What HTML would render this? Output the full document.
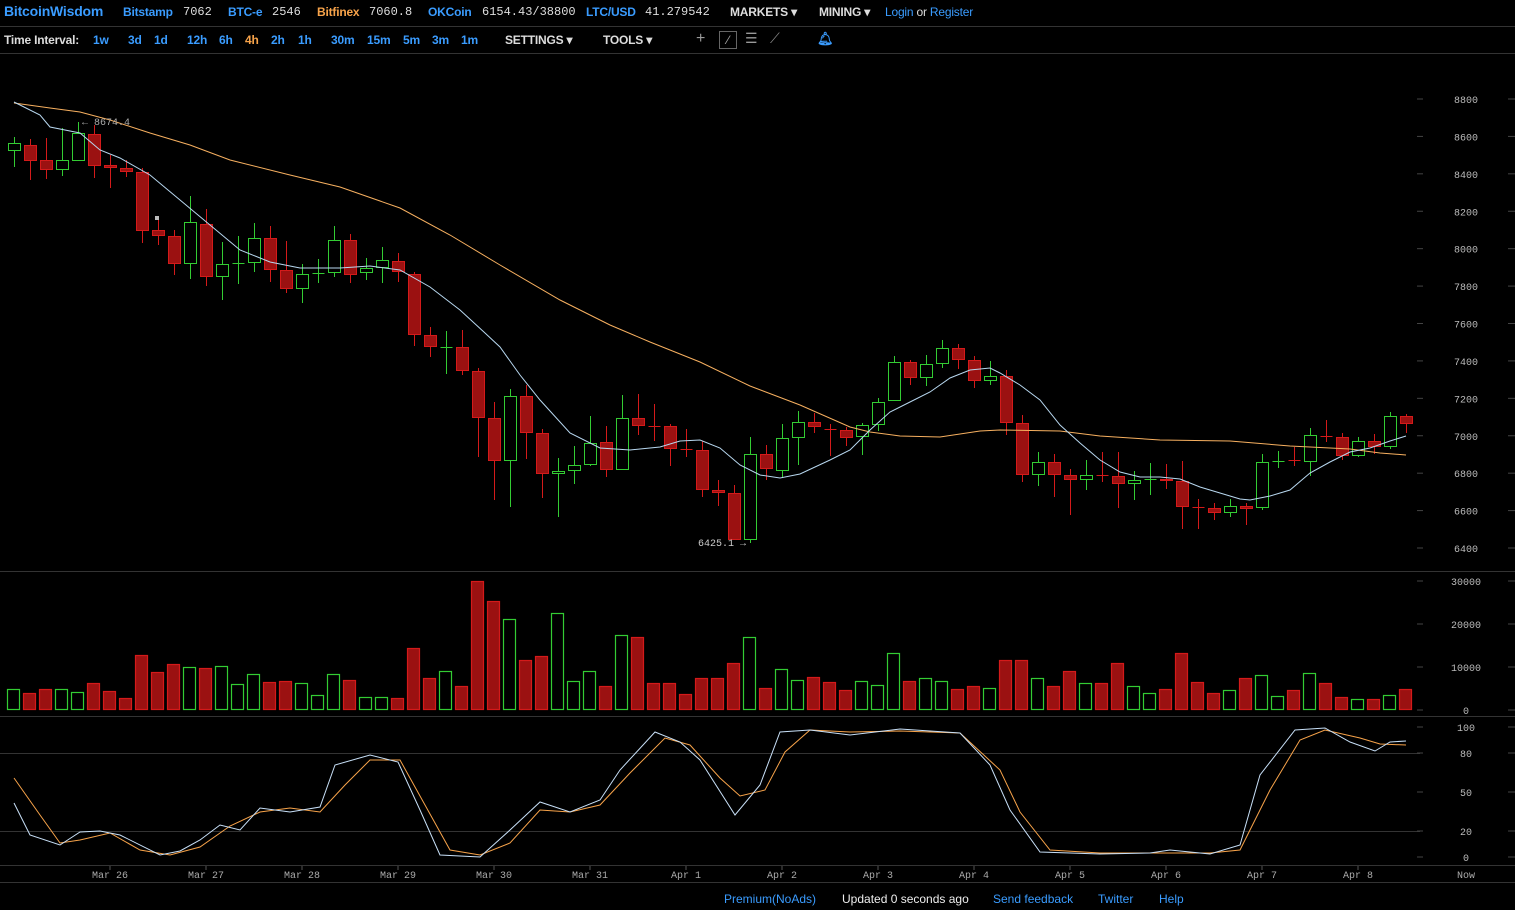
<!DOCTYPE html>
<html><head><meta charset="utf-8"><style>
body{margin:0;width:1515px;height:909px;background:#000;overflow:hidden;font-family:"Liberation Sans",sans-serif;position:relative}
.bar{position:absolute;left:0;width:1515px;font-size:12px;color:#ddd;white-space:nowrap}
#top{top:0;height:26px;border-bottom:1px solid #333}
#tb{top:27px;height:26px;border-bottom:1px solid #333}
#top span.a:not(.m),#tb span.a{font-weight:bold;letter-spacing:-0.2px}
.b{color:#3a9cff}.m{font-family:"Liberation Mono",monospace;color:#ddd;font-size:12px}
span.a{position:absolute;top:5px}
svg{position:absolute;left:0;top:0}
</style></head><body>
<div class="bar" id="top">
<span class="a b" style="left:4px;font-size:14px;top:3px">BitcoinWisdom</span>
<span class="a b" style="left:123px">Bitstamp</span><span class="a m" style="left:183px">7062</span>
<span class="a b" style="left:228px">BTC-e</span><span class="a m" style="left:272px">2546</span>
<span class="a" style="left:317px;color:#f7a34a">Bitfinex</span><span class="a m" style="left:369px">7060.8</span>
<span class="a b" style="left:428px">OKCoin</span><span class="a m" style="left:482px">6154.43/38800</span>
<span class="a b" style="left:586px">LTC/USD</span><span class="a m" style="left:645px">41.279542</span>
<span class="a" style="left:730px">MARKETS ▾</span>
<span class="a" style="left:819px">MINING ▾</span>
<span class="a" style="left:885px;font-weight:normal"><span class="b">Login</span> or <span class="b">Register</span></span>
</div>
<div class="bar" id="tb">
<span class="a" style="left:4px;top:6px">Time Interval:</span>
<span class="a b" style="left:93px;top:6px">1w</span>
<span class="a b" style="left:128px;top:6px">3d</span><span class="a b" style="left:154px;top:6px">1d</span>
<span class="a b" style="left:187px;top:6px">12h</span><span class="a b" style="left:219px;top:6px">6h</span>
<span class="a" style="left:245px;top:6px;color:#f7a34a">4h</span><span class="a b" style="left:271px;top:6px">2h</span><span class="a b" style="left:298px;top:6px">1h</span>
<span class="a b" style="left:331px;top:6px">30m</span><span class="a b" style="left:367px;top:6px">15m</span><span class="a b" style="left:403px;top:6px">5m</span><span class="a b" style="left:432px;top:6px">3m</span><span class="a b" style="left:461px;top:6px">1m</span>
<span class="a" style="left:505px;top:6px">SETTINGS ▾</span>
<span class="a" style="left:603px;top:6px">TOOLS ▾</span>
<span class="a" style="left:696px;top:3px;font-size:16px;color:#999;font-weight:normal">+</span>
<span class="a" style="left:719px;top:4px;width:16px;height:16px;border:1px solid #666;color:#aaa;text-align:center;line-height:16px;font-weight:normal">⁄</span>
<span class="a" style="left:745px;top:3px;color:#999;font-size:14px;font-weight:normal">☰</span>
<span class="a" style="left:770px;top:3px;color:#888;font-size:14px;font-weight:normal">⟋</span>
<span class="a b" style="left:817px;top:4px;font-size:13px">🔔︎</span>
</div>
<div class="bar" style="top:882px;height:27px;border-top:1px solid #333">
<span class="a b" style="left:724px;top:9px">Premium(NoAds)</span>
<span class="a" style="left:842px;top:9px;color:#eee">Updated 0 seconds ago</span>
<span class="a b" style="left:993px;top:9px">Send feedback</span>
<span class="a b" style="left:1098px;top:9px">Twitter</span>
<span class="a b" style="left:1159px;top:9px">Help</span>
</div>
<svg id="s" width="1515" height="909"></svg>
<script>
var C=[[137,143,150,167,'G'],[139,145,160,180,'R'],[138,160,169,179,'R'],[128,160,169,176,'G'],[122,133,160,160,'G'],[125,134,165,178,'R'],[155,165,167,188,'R'],[160,168,171,177,'R'],[168,172,230,243,'R'],[218,230,235,245,'R'],[230,236,263,275,'R'],[196,222,263,279,'G'],[209,224,276,286,'R'],[242,264,276,300,'G'],[236,263,263,284,'G'],[223,238,262,272,'G'],[226,238,269,282,'R'],[241,270,288,293,'R'],[264,274,288,303,'G'],[259,273,273,283,'G'],[226,240,272,277,'G'],[234,240,274,283,'R'],[258,268,272,280,'G'],[247,260,267,283,'G'],[253,261,271,282,'R'],[272,274,334,346,'R'],[327,335,346,357,'R'],[331,347,347,374,'G'],[330,347,370,375,'R'],[368,371,417,457,'R'],[402,418,460,500,'R'],[389,396,460,507,'G'],[385,396,432,459,'R'],[429,433,473,498,'R'],[458,471,473,517,'G'],[446,465,470,484,'G'],[416,443,464,466,'G'],[426,442,469,477,'R'],[395,418,469,469,'G'],[394,418,425,435,'R'],[404,426,426,441,'R'],[424,426,448,466,'R'],[429,449,449,457,'R'],[441,450,489,497,'R'],[480,490,492,506,'R'],[485,493,539,540,'R'],[437,454,539,543,'G'],[445,454,468,480,'R'],[424,438,470,478,'G'],[411,422,437,465,'G'],[413,422,426,433,'R'],[424,429,429,456,'R'],[427,430,437,446,'R'],[423,425,436,455,'G'],[398,402,424,431,'G'],[356,362,400,400,'G'],[360,362,377,385,'R'],[355,364,377,386,'G'],[340,348,363,368,'G'],[344,348,359,369,'R'],[356,360,380,388,'R'],[361,376,380,385,'G'],[370,376,422,435,'R'],[415,423,474,482,'R'],[452,462,474,486,'G'],[454,462,474,497,'R'],[469,475,479,515,'R'],[460,475,479,490,'G'],[452,475,475,482,'R'],[452,476,483,508,'R'],[471,480,483,500,'G'],[463,479,479,495,'G'],[464,479,480,489,'R'],[461,481,506,529,'R'],[499,507,507,529,'R'],[503,508,512,520,'R'],[499,506,512,517,'G'],[503,506,508,525,'R'],[454,462,507,510,'G'],[451,461,461,468,'G'],[447,460,460,466,'R'],[428,435,461,476,'G'],[420,436,436,442,'R'],[433,437,455,460,'R'],[437,441,455,457,'G'],[434,441,446,454,'R'],[412,416,446,449,'G'],[414,416,423,433,'R']];
var V=[689,693,689,689,692,683,691,698,655,672,664,667,668,666,684,674,682,681,683,695,674,680,697,697,698,648,678,671,686,581,601,619,660,656,613,681,671,686,635,637,683,683,694,678,678,663,637,688,669,680,677,682,690,681,685,653,681,678,681,689,686,688,660,660,678,686,671,683,683,663,686,693,689,653,682,693,690,678,675,696,690,673,683,697,699,699,695,689];
var OR=[[14,103],[50,108],[80,112],[110,120],[150,133],[190,145],[230,160],[290,175],[340,187],[400,208],[450,235],[500,265],[560,300],[610,325],[650,342],[700,362],[750,386],[800,405],[850,427],[870,432],[900,436],[940,437],[980,431],[1000,430],[1060,431],[1100,436],[1160,440],[1230,441],[1290,446],[1350,449],[1380,453],[1406,455]];
var BL=[[14,102],[40,115],[50,127],[80,133],[100,150],[120,158],[150,175],[180,200],[210,225],[240,250],[270,262],[300,268],[340,268],[370,266],[400,270],[430,287],[460,310],[485,333],[500,347],[520,375],[540,400],[570,433],[600,448],[630,450],[660,447],[680,441],[700,440],[720,448],[740,465],[760,475],[780,478],[800,474],[830,460],[850,450],[870,430],[890,412],[910,402],[930,392],[950,378],[970,370],[990,368],[1000,373],[1020,385],[1040,400],[1060,425],[1080,443],[1100,460],[1120,472],[1140,477],[1160,477],[1180,479],[1200,487],[1220,493],[1240,499],[1250,500],[1270,496],[1290,490],[1310,473],[1330,462],[1350,452],[1370,448],[1390,441],[1406,436]];
var SB=[[14,803],[30,835],[60,845],[80,832],[100,831],[120,835],[160,855],[180,851],[200,840],[220,825],[240,830],[260,808],[290,812],[320,807],[335,765],[370,755],[398,762],[420,810],[440,855],[480,857],[510,830],[540,802],[570,812],[600,800],[620,770],[655,732],[680,742],[700,760],[735,815],[760,785],[780,732],[810,730],[850,735],[900,729],[960,733],[990,765],[1010,810],[1040,852],[1100,854],[1150,853],[1170,850],[1210,854],[1240,845],[1260,775],[1295,730],[1325,728],[1350,742],[1375,751],[1390,742],[1406,741]];
var SO=[[14,778],[40,815],[60,843],[80,840],[110,833],[140,850],[170,855],[200,847],[230,826],[260,812],[290,808],[320,812],[345,785],[370,760],[400,760],[425,805],[450,850],[480,855],[510,843],[540,810],[570,812],[600,805],[630,773],[665,738],[690,745],[720,778],[740,796],[765,790],[785,752],[810,730],[850,732],[900,731],[960,733],[1000,770],[1020,812],[1050,850],[1100,853],[1150,853],[1210,853],[1240,850],[1270,790],[1300,740],[1325,730],[1360,738],[1380,744],[1406,745]];
var h='';
function ln(a,b,c,d,col){h+='<line x1="'+a+'" y1="'+b+'" x2="'+c+'" y2="'+d+'" stroke="'+col+'" stroke-width="1"/>';}
function tx(x,y,t,col,anc,sz){h+='<text x="'+x+'" y="'+y+'" fill="'+(col||'#bbb')+'" font-family="Liberation Mono,monospace" font-size="'+(sz||10)+'" text-anchor="'+(anc||'middle')+'">'+t+'</text>';}
[571.5,716.5,865.5].forEach(function(y){ln(0,y,1515,y,'#333');});
ln(0,753.5,1420,753.5,'#333');ln(0,831.5,1420,831.5,'#333');
for(var p=6400;p<=8800;p+=200){var y=99+(8800-p)*449/2400;ln(1417,y,1423,y,'#444');ln(1508,y,1515,y,'#444');tx(1466,y+4,p);}
[[30000,581],[20000,624],[10000,667],[0,710]].forEach(function(a){ln(1417,a[1],1423,a[1],'#444');ln(1508,a[1],1515,a[1],'#444');tx(1466,a[1]+4,a[0]);});
[[100,727],[80,753],[50,792],[20,831],[0,857]].forEach(function(a){ln(1417,a[1],1423,a[1],'#444');ln(1508,a[1],1515,a[1],'#444');tx(1466,a[1]+4,a[0]);});
['Mar 26','Mar 27','Mar 28','Mar 29','Mar 30','Mar 31','Apr 1','Apr 2','Apr 3','Apr 4','Apr 5','Apr 6','Apr 7','Apr 8'].forEach(function(t,i){var x=110+96*i;ln(x,866,x,870,'#555');tx(x,878,t,'#aaa');});
tx(1466,878,'Now','#aaa');
V.forEach(function(t,i){var x=14+16*i,r=C[i][4]=='R';h+='<rect x="'+(x-6.5)+'" y="'+(t+.5)+'" width="12" height="'+(709-t)+'" fill="'+(r?'#9b1111':'#000')+'" stroke="'+(r?'#d41a1a':'#33cc33')+'" stroke-width="1.2"/>';});
C.forEach(function(c,i){var x=14+16*i+.5,r=c[4]=='R',col=r?'#d41a1a':'#33cc33';ln(x,c[0],x,c[3],col);
var hh=c[2]-c[1];if(hh<1){ln(x-6,c[1]+.5,x+6,c[1]+.5,col);}else h+='<rect x="'+(x-6)+'" y="'+(c[1]+.5)+'" width="12" height="'+hh+'" fill="'+(r?'#9b1111':'#000')+'" stroke="'+col+'"/>';});
function pl(P,col){h+='<polyline fill="none" stroke="'+col+'" stroke-width="1" points="'+P.map(function(p){return p.join(',')}).join(' ')+'"/>';}
pl(OR,'#f7b060');pl(BL,'#b8d8f0');pl(SO,'#f7a34a');pl(SB,'#c8e0f8');
h+='<rect x="155" y="216" width="4" height="4" fill="#bbb"/>';
tx(82,125,'← 8674.4','#aaa','start');tx(698,546,'6425.1 →','#ccc','start');
document.getElementById('s').innerHTML=h;
</script>
</body></html>
